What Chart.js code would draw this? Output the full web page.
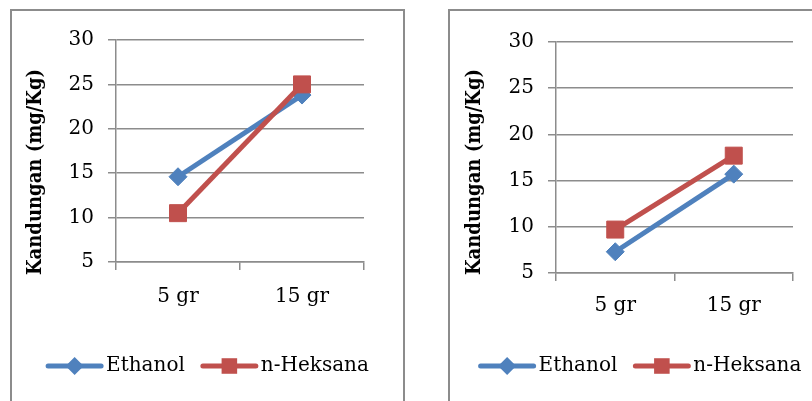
<!DOCTYPE html>
<html>
<head>
<meta charset="utf-8">
<script src="https://cdn.jsdelivr.net/npm/chart.js@4/dist/chart.umd.min.js"></script>
<style>
  html, body { margin: 0; padding: 0; background: #ffffff; overflow: hidden; width: 812px; height: 401px; }
  .panel { position: absolute; border: 2px solid #8c8c8c; border-bottom: none; background: #ffffff; }
  #boxA { left: 10px; top: 9px; width: 391px; height: 400px; }
  #boxB { left: 448px; top: 9px; width: 380px; height: 400px; }
  canvas { display: block; }
</style>
</head>
<body>
<div class="panel" id="boxA"><canvas id="chartA" width="391" height="400"></canvas></div>
<div class="panel" id="boxB"><canvas id="chartB" width="380" height="400"></canvas></div>
<script>
// Sample sizes on the category axis
const categories = ['5 gr', '15 gr'];

// Left panel: content (mg/Kg) per solvent
const ethanolLeft = [14.6, 23.8];
const heksanaLeft = [10.5, 25.0];

// Right panel: content (mg/Kg) per solvent
const ethanolRight = [7.3, 15.7];
const heksanaRight = [9.7, 17.7];

// Value axis ticks
const yTickValues = [5, 10, 15, 20, 25, 30];

const seriesNames = ['Ethanol', 'n-Heksana'];
const yAxisLabel = 'Kandungan (mg/Kg)';

const BLUE = '#4f81bd';
const RED = '#c0504d';
const GRID = '#8c8c8c';
const SERIF = "'DejaVu Serif', serif";

function drawMarker(ctx, style, cx, cy, r, color) {
  ctx.fillStyle = color;
  ctx.beginPath();
  if (style === 'rectRot') {
    ctx.moveTo(cx, cy - r);
    ctx.lineTo(cx + r, cy);
    ctx.lineTo(cx, cy + r);
    ctx.lineTo(cx - r, cy);
  } else {
    const h = r * Math.SQRT1_2;
    ctx.rect(cx - h, cy - h, 2 * h, 2 * h);
  }
  ctx.closePath();
  ctx.fill();
}

// Rotated value-axis title
const axisTitle = {
  id: 'axisTitle',
  afterDraw(chart, args, opts) {
    const ctx = chart.ctx;
    ctx.save();
    ctx.translate(opts.x, opts.y);
    ctx.rotate(-Math.PI / 2);
    ctx.font = opts.font;
    ctx.fillStyle = '#000000';
    ctx.textAlign = 'center';
    ctx.textBaseline = 'middle';
    ctx.fillText(opts.text, 0, 0);
    ctx.restore();
  }
};

// Legend entries drawn as a line with its marker, followed by the series name
const lineLegend = {
  id: 'lineLegend',
  afterDraw(chart, args, opts) {
    const ctx = chart.ctx;
    ctx.save();
    ctx.font = opts.font;
    const sets = chart.data.datasets;
    const widths = sets.map(ds => ctx.measureText(ds.label).width);
    let total = opts.itemGap * (sets.length - 1);
    widths.forEach(w => { total += opts.lineLength + opts.textGap + w; });
    let x = chart.width / 2 - total / 2;
    const y = opts.y;
    sets.forEach((ds, i) => {
      ctx.strokeStyle = ds.borderColor;
      ctx.lineWidth = ds.borderWidth;
      ctx.lineCap = 'round';
      ctx.beginPath();
      ctx.moveTo(x + 2, y);
      ctx.lineTo(x + opts.lineLength - 2, y);
      ctx.stroke();
      drawMarker(ctx, ds.pointStyle, x + opts.lineLength / 2, y,
                 ds.pointStyle === 'rect' ? ds.pointRadius - 1 : ds.pointRadius, ds.borderColor);
      ctx.fillStyle = '#000000';
      ctx.textAlign = 'left';
      ctx.textBaseline = 'middle';
      ctx.fillText(ds.label, x + opts.lineLength + opts.textGap, y);
      x += opts.lineLength + opts.textGap + widths[i] + opts.itemGap;
    });
    ctx.restore();
  }
};

function buildChart(canvasId, ethanol, heksana, geo) {
  const ctx = document.getElementById(canvasId).getContext('2d');
  return new Chart(ctx, {
    type: 'line',
    data: {
      labels: categories,
      datasets: [
        {
          label: seriesNames[0],
          data: ethanol,
          borderColor: BLUE,
          backgroundColor: BLUE,
          borderWidth: 5,
          pointStyle: 'rectRot',
          pointRadius: 9,
          pointBorderWidth: 1,
          pointBackgroundColor: BLUE,
          pointBorderColor: BLUE,
          tension: 0,
          order: 1
        },
        {
          label: seriesNames[1],
          data: heksana,
          borderColor: RED,
          backgroundColor: RED,
          borderWidth: 5,
          pointStyle: 'rect',
          pointRadius: 12,
          pointBorderWidth: 1,
          pointBackgroundColor: RED,
          pointBorderColor: RED,
          tension: 0,
          order: 0
        }
      ]
    },
    options: {
      responsive: false,
      animation: false,
      events: [],
      layout: { padding: { left: 0, right: geo.padRight, top: geo.padTop, bottom: geo.padBottom } },
      plugins: {
        legend: { display: false },
        tooltip: { enabled: false },
        axisTitle: { text: yAxisLabel, x: geo.titleX, y: geo.titleY, font: geo.titleFont },
        lineLegend: { y: geo.legendY, lineLength: 57, textGap: 3, itemGap: 16, font: '20px ' + SERIF }
      },
      scales: {
        x: {
          type: 'category',
          offset: true,
          afterFit(scale) { scale.height = 60; },
          grid: { display: true, offset: true, drawOnChartArea: false, drawTicks: true, tickLength: 8, color: GRID, lineWidth: 1.5 },
          border: { display: true, color: GRID, width: 1.5 },
          ticks: { color: '#000000', font: { family: SERIF, size: 20 }, padding: geo.xPad, maxRotation: 0 }
        },
        y: {
          min: yTickValues[0],
          max: yTickValues[yTickValues.length - 1],
          afterFit(scale) { scale.width = geo.yWidth; },
          afterBuildTicks(scale) { scale.ticks = yTickValues.map(v => ({ value: v })); },
          grid: { color: GRID, lineWidth: 1.5, tickLength: 8, drawTicks: true },
          border: { display: true, color: GRID, width: 1.5 },
          ticks: { color: '#000000', font: { family: SERIF, size: 20 }, padding: 14 }
        }
      }
    },
    plugins: [axisTitle, lineLegend]
  });
}

const titleFont = "bold 20px 'DejaVu Serif Condensed', 'DejaVu Serif', serif";

buildChart('chartA', ethanolLeft, heksanaLeft, {
  padRight: 39, padTop: 29, padBottom: 89, yWidth: 104, xPad: 15,
  titleX: 24, titleY: 161, titleFont: titleFont, legendY: 355
});

buildChart('chartB', ethanolRight, heksanaRight, {
  padRight: 37, padTop: 31, padBottom: 78, yWidth: 106, xPad: 13,
  titleX: 25, titleY: 161, titleFont: titleFont, legendY: 355
});
</script>
</body>
</html>
